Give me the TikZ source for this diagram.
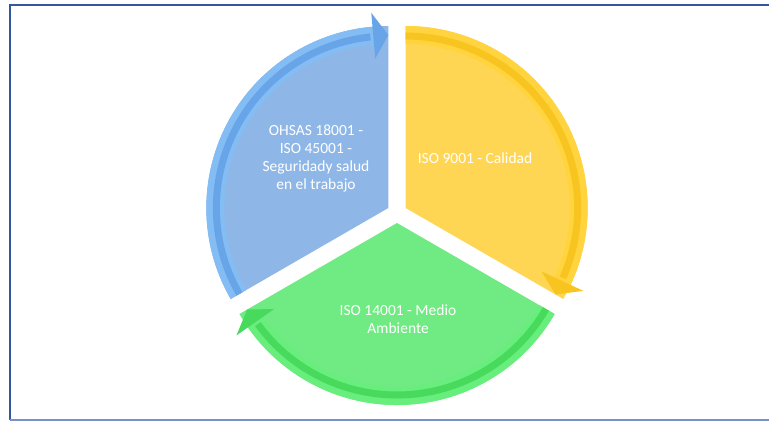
\documentclass[tikz,border=0pt]{standalone}
\usepackage{fontspec}
\setmainfont{Carlito}
\usetikzlibrary{calc}

\definecolor{segblue}{RGB}{142,183,232}
\definecolor{bandblue}{RGB}{132,188,244}
\definecolor{stripeblue}{RGB}{104,164,232}
\definecolor{segyellow}{RGB}{255,214,84}
\definecolor{bandyellow}{RGB}{255,212,62}
\definecolor{stripeyellow}{RGB}{248,196,32}
\definecolor{seggreen}{RGB}{112,234,130}
\definecolor{bandgreen}{RGB}{104,238,124}
\definecolor{stripegreen}{RGB}{72,218,92}
\definecolor{framedark}{RGB}{52,88,160}
\definecolor{framelight}{RGB}{120,145,200}

\begin{document}
\begin{tikzpicture}[x=1pt, y=1pt,
    segtext/.style={text=white, align=center, inner sep=0pt,
        font=\fontsize{15.5}{18}\selectfont},
    stripe/.style={line width=7pt}]
        \useasboundingbox (0,0) rectangle (769,421);
        \coordinate (O) at (397,208);
        \coordinate (B) at ($(O)+(150:10)$);
        \coordinate (Y) at ($(O)+(30:10)$);
        \coordinate (G) at ($(O)+(270:10)$);

        % blue segment
        \fill[segblue] (B) -- ($(B)+(210:182)$) arc [start angle=210, end angle=90, radius=182pt] -- cycle;
        \fill[bandblue] ($(B)+(210:182)$) arc [start angle=210, end angle=95, radius=182pt]
            -- ($(B)+(95:164)$) arc [start angle=95, end angle=210, radius=164pt] -- cycle;
        \draw[stripeblue, stripe] ($(B)+(210:172)$) arc [start angle=210, end angle=96, radius=172pt];
        \fill[stripeblue] ($(B)+(95:196)$) -- ($(B)+(90:173)$) -- ($(B)+(95:150)$) -- cycle;

        % yellow segment
        \fill[segyellow] (Y) -- ($(Y)+(90:182)$) arc [start angle=90, end angle=-30, radius=182pt] -- cycle;
        \fill[bandyellow] ($(Y)+(90:182)$) arc [start angle=90, end angle=-25, radius=182pt]
            -- ($(Y)+(-25:164)$) arc [start angle=-25, end angle=90, radius=164pt] -- cycle;
        \draw[stripeyellow, stripe] ($(Y)+(90:172)$) arc [start angle=90, end angle=-24, radius=172pt];
        \fill[stripeyellow] ($(Y)+(-25:196)$) -- ($(Y)+(-30:173)$) -- ($(Y)+(-25:150)$) -- cycle;

        % green segment
        \fill[seggreen] (G) -- ($(G)+(-30:182)$) arc [start angle=-30, end angle=-150, radius=182pt] -- cycle;
        \fill[bandgreen] ($(G)+(-30:182)$) arc [start angle=-30, end angle=-145, radius=182pt]
            -- ($(G)+(-145:164)$) arc [start angle=-145, end angle=-30, radius=164pt] -- cycle;
        \draw[stripegreen, stripe] ($(G)+(-30:172)$) arc [start angle=-30, end angle=-144, radius=172pt];
        \fill[stripegreen] ($(G)+(-145:196)$) -- ($(G)+(-150:173)$) -- ($(G)+(-145:150)$) -- cycle;

        \node[segtext] (ohsas) at (316,262) {OHSAS 18001 -\\ISO 45001 -\\Seguridady salud\\en el trabajo};
        \node[segtext] (calidad) at (475,263) {ISO 9001 - Calidad};
        \node[segtext] (ambiente) at (398,102) {ISO 14001 - Medio\\Ambiente};

        \draw[framedark, line width=2] (769,416) -- (10,416) -- (10,1);
        \draw[framelight, line width=1.5] (10,1) -- (769,1);
    \end{tikzpicture}
\end{document}
